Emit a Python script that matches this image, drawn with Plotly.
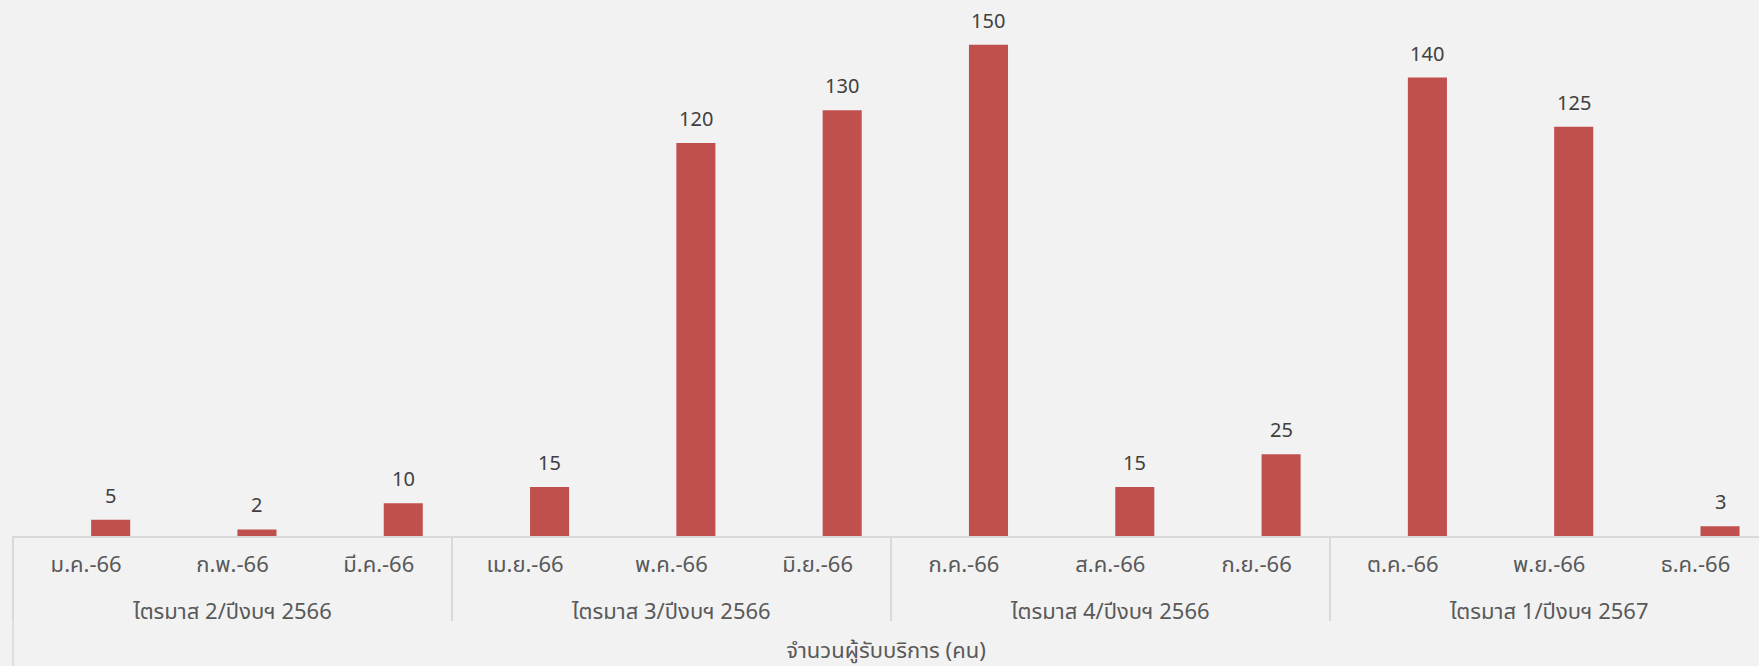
import plotly.graph_objects as go

quarters = ["ไตรมาส 2/ปีงบฯ 2566"] * 3 + ["ไตรมาส 3/ปีงบฯ 2566"] * 3 + ["ไตรมาส 4/ปีงบฯ 2566"] * 3 + ["ไตรมาส 1/ปีงบฯ 2567"] * 3
months = ["ม.ค.-66", "ก.พ.-66", "มี.ค.-66", "เม.ย.-66", "พ.ค.-66", "มิ.ย.-66",
          "ก.ค.-66", "ส.ค.-66", "ก.ย.-66", "ต.ค.-66", "พ.ย.-66", "ธ.ค.-66"]
values = [5, 2, 10, 15, 120, 130, 150, 15, 25, 140, 125, 3]
axis_title = "จำนวนผู้รับบริการ (คน)"

FONT = "Noto Sans, Noto Sans Thai, Tahoma, sans-serif"
BAR_W = 0.267
BAR_OFF = 0.034
X_RANGE = [-0.5, 11.434]
GRID = "#D9D9D9"
TXT = "#595959"

# group structure derived from the quarter list
group_names, group_start = [], []
for i, q in enumerate(quarters):
    if not group_names or group_names[-1] != q:
        group_names.append(q)
        group_start.append(i)
group_end = group_start[1:] + [len(quarters)]
group_centers = [(s + e - 1) / 2 for s, e in zip(group_start, group_end)]
group_bounds = [s - 0.5 for s in group_start] + [len(quarters) - 0.5]

fig = go.Figure()
fig.add_trace(go.Bar(
    x=months,
    y=values,
    width=BAR_W,
    offset=BAR_OFF,
    marker=dict(color="#C0504D", line=dict(width=0)),
    cliponaxis=False,
    hoverinfo="x+y",
))
# invisible helper traces so the group-divider and quarter-label axes are drawn
for ax, xs in (("x2", group_bounds), ("x3", group_centers)):
    fig.add_trace(go.Scatter(
        x=xs, y=[0] * len(xs), xaxis=ax, yaxis="y",
        mode="markers", marker=dict(opacity=0, size=1),
        hoverinfo="skip", showlegend=False,
    ))

annotations = [
    dict(x=i + BAR_OFF + BAR_W / 2, y=v, xref="x", yref="y", text=str(v),
         showarrow=False, yanchor="bottom", yshift=9,
         font=dict(size=20, color="#404040", family=FONT))
    for i, v in enumerate(values)
]

fig.update_layout(
    width=1759, height=666,
    margin=dict(l=13, r=0, t=0, b=130),
    paper_bgcolor="#F2F2F2",
    plot_bgcolor="#F2F2F2",
    showlegend=False,
    font=dict(family=FONT, color=TXT, size=22),
    xaxis=dict(
        type="category",
        range=X_RANGE,
        showline=True, linecolor=GRID, linewidth=2,
        showgrid=False, ticks="",
        tickfont=dict(size=22, color=TXT),
        ticklabelstandoff=8,
    ),
    xaxis2=dict(
        overlaying="x", anchor="y", side="bottom",
        type="linear", range=X_RANGE,
        tickmode="array", tickvals=group_bounds,
        ticks="outside", ticklen=84, tickwidth=1.5, tickcolor=GRID,
        showticklabels=False, showgrid=False, zeroline=False, showline=False,
    ),
    xaxis3=dict(
        overlaying="x", anchor="y", side="bottom",
        type="linear", range=X_RANGE,
        tickmode="array", tickvals=group_centers, ticktext=group_names,
        ticks="", showgrid=False, zeroline=False, showline=False,
        tickfont=dict(size=22, color=TXT),
        ticklabelstandoff=60,
        title=dict(text=axis_title, font=dict(size=22, color=TXT), standoff=18),
    ),
    yaxis=dict(
        range=[0, 163.7],
        visible=False,
        showgrid=False, zeroline=False,
    ),
    annotations=annotations,
    shapes=[dict(type="line", xref="paper", yref="paper", x0=0, x1=0, y0=0, y1=-0.3,
                 line=dict(color=GRID, width=1.5))],
)

fig.write_html(
    "out.html",
    config={"displayModeBar": False},
    post_script="document.body.style.margin='0';document.body.style.background='#F2F2F2';document.body.style.overflow='hidden';",
)
